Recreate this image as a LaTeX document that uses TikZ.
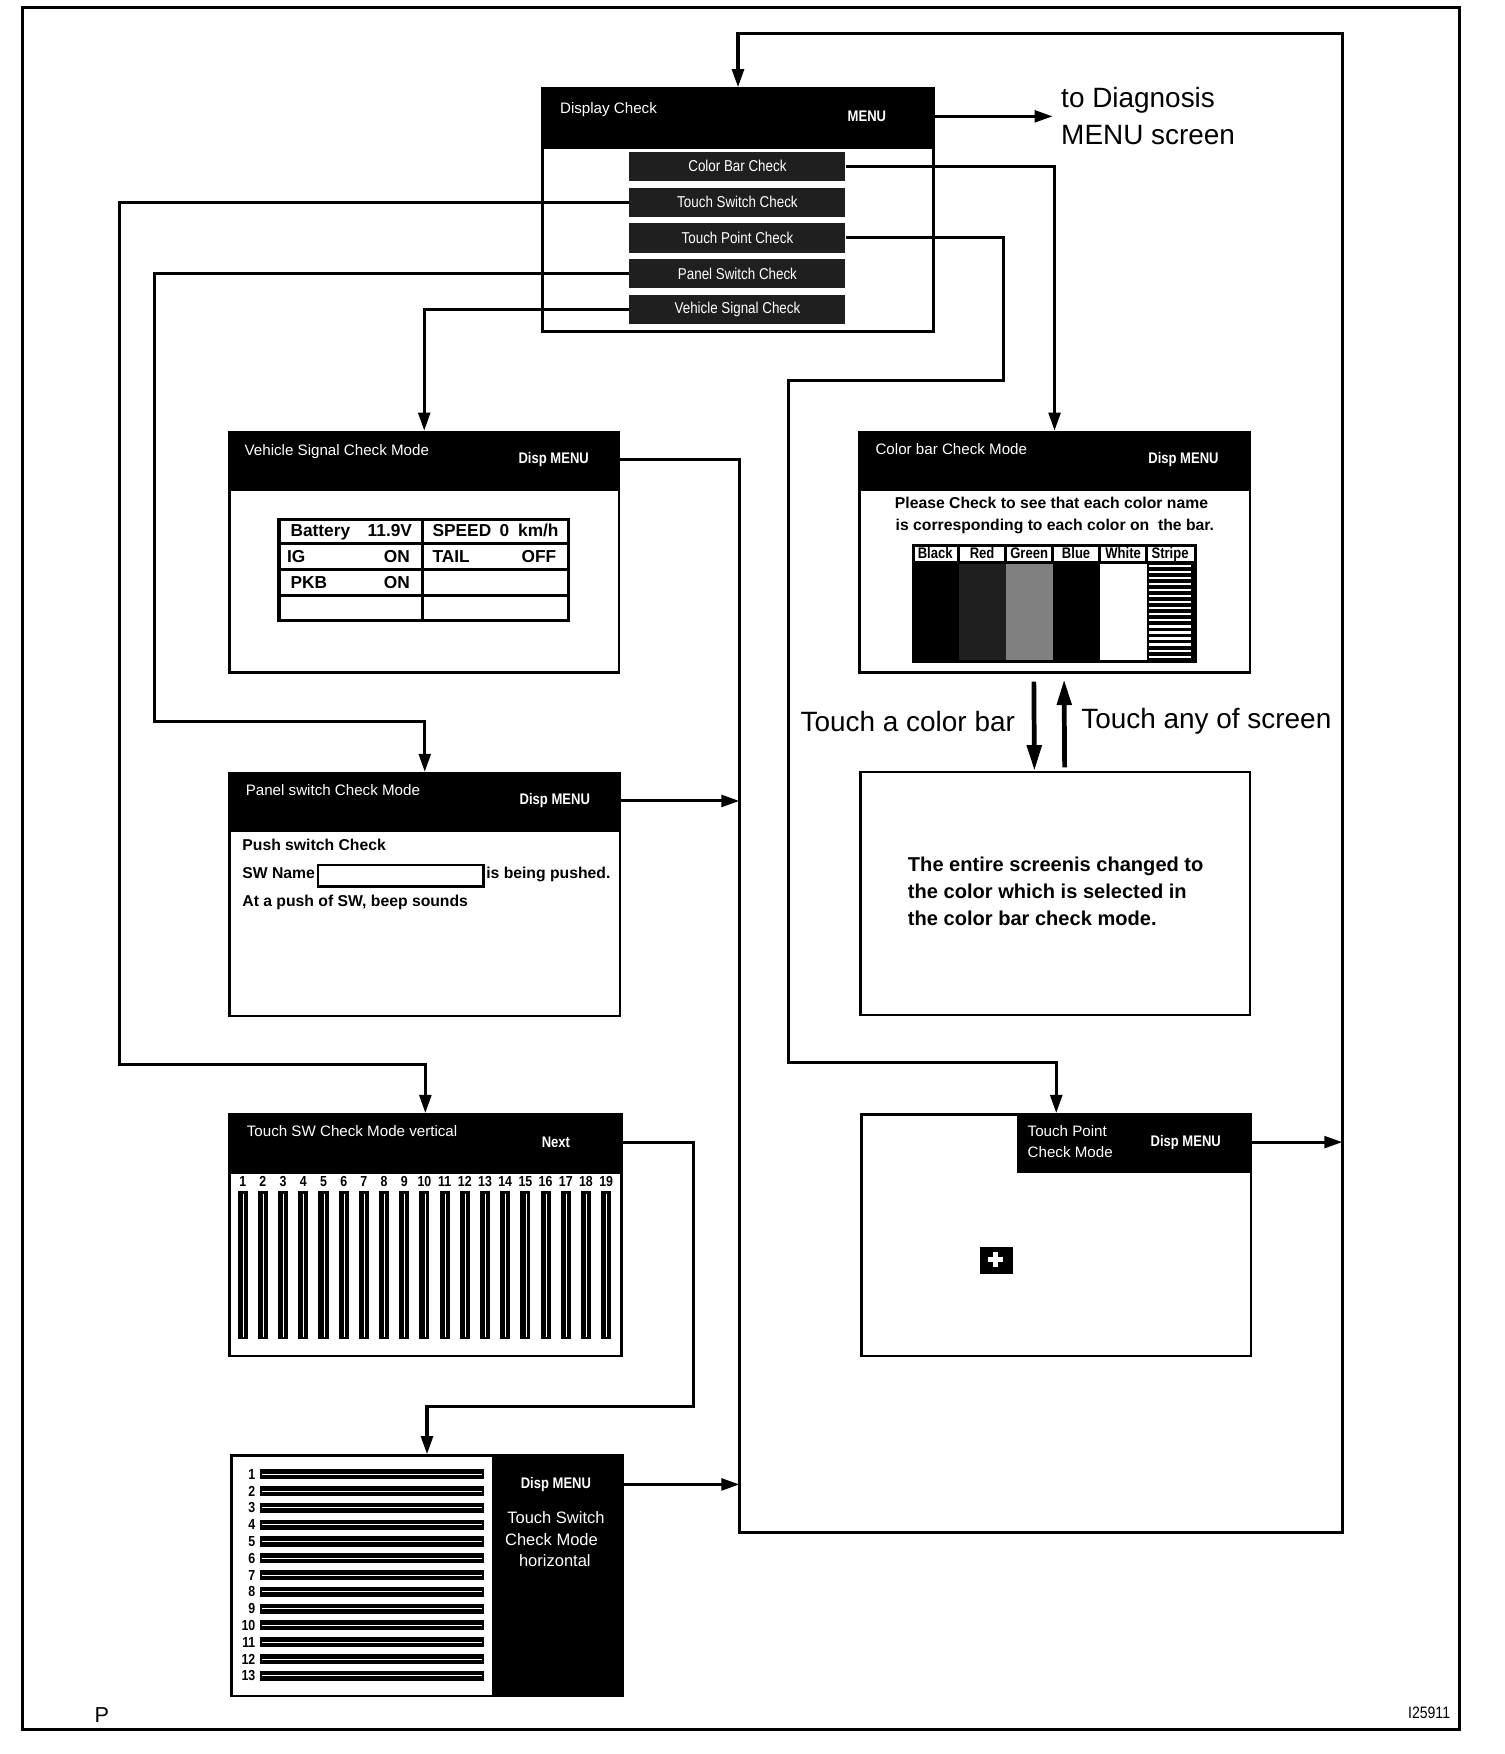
\documentclass[tikz,border=0pt]{standalone}
\usepackage{fontspec}
\setmainfont{Liberation Sans}
\newfontfamily\cfont{Liberation Sans}[FakeStretch=0.85]
\usetikzlibrary{arrows.meta}
\begin{document}
\begin{tikzpicture}[x=0.01cm,y=-0.01cm,
  conn/.style={line width=0.78pt},
  arr/.style={conn,-{Triangle[length=4.6pt,width=3pt]}},
  bigarr/.style={line width=1.2pt,-{Triangle[length=6.5pt,width=3.6pt]}},
  scr/.style={draw,line width=0.65pt,fill=white,inner sep=0,anchor=north west},
  hdr/.style={fill=black,draw=black,line width=0.65pt,inner sep=0,anchor=north west},
  item/.style={fill=black!88,inner sep=0,anchor=north west,minimum width=1.93cm,minimum height=0.26cm,text=white,font=\cfont\fontsize{4pt}{5pt}\selectfont},
  ttl/.style={text=white,inner sep=0,anchor=base west,font=\fontsize{3.85pt}{4.7pt}\selectfont},
  dm/.style={text=white,inner sep=0,font=\cfont\bfseries\fontsize{3.9pt}{4.7pt}\selectfont},
  tb/.style={inner sep=0,font=\bfseries\fontsize{4.4pt}{5pt}\selectfont},
  bt/.style={inner sep=0,anchor=base west,font=\bfseries\fontsize{4pt}{5pt}\selectfont},
  et/.style={inner sep=0,anchor=base west,font=\bfseries\fontsize{5.1pt}{6pt}\selectfont},
  big/.style={inner sep=0,font=\fontsize{7.1pt}{8.8pt}\selectfont},
  num/.style={inner sep=0,font=\cfont\bfseries\fontsize{3.7pt}{4pt}\selectfont},
  lab/.style={inner sep=0,anchor=base,font=\cfont\bfseries\fontsize{3.9pt}{4pt}\selectfont},
  wt/.style={text=white,inner sep=0,font=\fontsize{4.2pt}{5pt}\selectfont},
]
\useasboundingbox (0,0) rectangle (1345,1568);
\fill[white] (0,0) rectangle (1345,1568);
\node[draw,line width=0.75pt,inner sep=0,anchor=north west,minimum width=12.84cm,minimum height=15.39cm] (frame) at (19,5) {};

% ---------- Display Check ----------
\node[scr,minimum width=3.49cm,minimum height=2.17cm] (dc) at (484,78) {};
\node[hdr,minimum width=3.49cm,minimum height=0.53cm] (dch) at (484,78) {};
\node[ttl] (dct) at (500,101) {Display Check};
\node[dm] (menu) at (775,104) {MENU};
\node[item] (cbi) at (562,135) {Color Bar Check};
\node[item] (tsi) at (562,167) {Touch Switch Check};
\node[item] (tpi) at (562,199) {Touch Point Check};
\node[item] (psi) at (562,231) {Panel Switch Check};
\node[item] (vsi) at (562,263) {Vehicle Signal Check};
\node[big,anchor=west] (diag1) at (948,90) {to Diagnosis};
\node[big,anchor=west] (diag2) at (948,121) {MENU screen};
\coordinate (diagin) at (941,104);

% ---------- Vehicle Signal ----------
\node[scr,minimum width=3.48cm,minimum height=2.15cm] (vs) at (204,385) {};
\node[hdr,minimum width=3.48cm,minimum height=0.52cm] (vsh) at (204,385) {};
\node[ttl] (vst) at (218,407) {Vehicle Signal Check Mode};
\node[dm] (vsdm) at (495,411) {Disp MENU};
\node[draw,line width=0.8pt,inner sep=0,anchor=north west,minimum width=2.59cm,minimum height=0.90cm] (vtab) at (248,463) {};
\draw[line width=0.8pt] (378,463) -- (378,553);
\foreach \yy in {486,509,532} \draw[line width=0.8pt] (248,\yy) -- (507,\yy);
\node[tb,anchor=base west] (v1) at (259,480) {Battery};
\node[tb,anchor=base east] (v2) at (369,480) {11.9V};
\node[tb,anchor=base west] (v3) at (386,480) {SPEED};
\node[tb,anchor=base] (v4) at (451,480) {0};
\node[tb,anchor=base east] (v5) at (500,480) {km/h};
\node[tb,anchor=base west] (v6) at (256,503) {IG};
\node[tb,anchor=base east] (v7) at (367,503) {ON};
\node[tb,anchor=base west] (v8) at (386,503) {TAIL};
\node[tb,anchor=base east] (v9) at (498,503) {OFF};
\node[tb,anchor=base west] (v10) at (259,526) {PKB};
\node[tb,anchor=base east] (v11) at (367,526) {ON};

% ---------- Panel switch ----------
\node[scr,minimum width=3.49cm,minimum height=2.17cm] (ps) at (204,690) {};
\node[hdr,minimum width=3.49cm,minimum height=0.51cm] (psh) at (204,690) {};
\node[ttl] (pst) at (219,711) {Panel switch Check Mode};
\node[dm] (psdm) at (496,716) {Disp MENU};
\node[bt] (p1) at (216,760) {Push switch Check};
\node[bt] (p2) at (216,785) {SW Name};
\node[draw,line width=0.7pt,inner sep=0,anchor=north west,minimum width=1.48cm,minimum height=0.19cm] (pbox) at (283,772) {};
\node[bt] (p3) at (434,785) {is being pushed.};
\node[bt] (p4) at (216,810) {At a push of SW, beep sounds};

% ---------- Touch SW vertical ----------
\node[scr,minimum width=3.50cm,minimum height=2.16cm] (tsv) at (204,995) {};
\node[hdr,minimum width=3.50cm,minimum height=0.52cm] (tsvh) at (204,995) {};
\node[ttl] (tsvt) at (220,1016) {Touch SW Check Mode vertical};
\node[dm] (nextn) at (497,1021) {Next};
\foreach \i in {1,...,19} {
  \pgfmathsetmacro\xx{217+(\i-1)*18.05}
  \node[num] (vn\i) at (\xx,1056) {\i};
  \fill (\xx-4.5,1065) rectangle (\xx+4.5,1197);
  \draw[white,line width=0.22pt] (\xx+0.5,1067) -- (\xx+0.5,1195);
}

% ---------- Touch Switch horizontal ----------
\node[scr,minimum width=3.49cm,minimum height=2.15cm] (tsh) at (206,1300) {};
\node[hdr,minimum width=1.15cm,minimum height=2.15cm] (tshp) at (440,1300) {};
\node[dm] (tshdm) at (497,1327) {Disp MENU};
\node[wt] (tsh1) at (497,1357) {Touch Switch};
\node[wt] (tsh2) at (493,1376) {Check Mode};
\node[wt] (tsh3) at (496,1395) {horizontal};
\foreach \i in {1,...,13} {
  \pgfmathsetmacro\yy{1318+(\i-1)*15}
  \node[num,anchor=east] (hn\i) at (229,\yy) {\i};
  \fill (232,\yy-4.5) rectangle (433,\yy+4.5);
  \draw[white,line width=0.22pt] (234,\yy) -- (431,\yy);
}

% ---------- Color bar ----------
\node[scr,minimum width=3.49cm,minimum height=2.15cm] (cb) at (767,385) {};
\node[hdr,minimum width=3.49cm,minimum height=0.52cm] (cbh) at (767,385) {};
\node[ttl] (cbt) at (782,406) {Color bar Check Mode};
\node[dm] (cbdm) at (1058,411) {Disp MENU};
\node[bt,anchor=base] (c1) at (940,455) {Please Check to see that each color name};
\node[bt,anchor=base] (c2) at (943,474) {is corresponding to each color on\ \ the bar.};
\fill[black] (815,503) rectangle (857,590);
\fill[black!88] (857,503) rectangle (899,590);
\fill[black!50] (899,503) rectangle (941,590);
\fill[black] (941,503) rectangle (983,590);
\fill[black] (1025,503) rectangle (1067,590);
\foreach \k in {0,...,15} \draw[white,line width=0.55pt] (1027,506+\k*5.4) -- (1065,506+\k*5.4);
\node[draw,line width=0.8pt,inner sep=0,anchor=north west,minimum width=2.52cm,minimum height=1.04cm] (ctab) at (815,486) {};
\draw[line width=0.8pt] (815,503) -- (1067,503);
\foreach \xx in {857,899,941,983,1025} \draw[line width=0.8pt] (\xx,486) -- (\xx,503);
\node[lab] (l1) at (836,499) {Black};
\node[lab] (l2) at (878,499) {Red};
\node[lab] (l3) at (920,499) {Green};
\node[lab] (l4) at (962,499) {Blue};
\node[lab] (l5) at (1004,499) {White};
\node[lab] (l6) at (1046,499) {Stripe};

% ---------- Entire screen ----------
\node[scr,minimum width=3.48cm,minimum height=2.17cm] (ent) at (768,689) {};
\node[et] (e1) at (811,779) {The entire screenis changed to};
\node[et] (e2) at (811,803) {the color which is selected in};
\node[et] (e3) at (811,827) {the color bar check mode.};
\node[big,anchor=east] (tcb) at (908,645) {Touch a color bar};
\node[big,anchor=west] (tas) at (966,645) {Touch any of screen};

% ---------- Touch Point ----------
\node[scr,minimum width=3.48cm,minimum height=2.16cm] (tp) at (769,995) {};
\node[hdr,minimum width=2.08cm,minimum height=0.51cm] (tph) at (909,995) {};
\node[ttl] (tpt1) at (918,1016) {Touch Point};
\node[ttl] (tpt2) at (918,1035) {Check Mode};
\node[dm] (tpdm) at (1060,1021) {Disp MENU};
\node[fill=black,inner sep=0,anchor=north west,minimum width=0.30cm,minimum height=0.24cm] (plus) at (875,1114) {};
\fill[white] (883,1124) rectangle (897,1128);
\fill[white] (888,1119) rectangle (892,1133);

% ---------- footer ----------
\node[inner sep=0,font=\fontsize{5.5pt}{6pt}\selectfont] (pl) at (91,1533) {P};
\node[inner sep=0,anchor=east,font=\cfont\fontsize{4.2pt}{5pt}\selectfont] (fig) at (1297,1531) {I25911};

% ---------- connectors ----------
\coordinate (r1) at (1200,30);
\coordinate (l2) at (661,1370);
\draw[arr] (vs.north east |- vsdm) -| (l2) -| (r1) -| (dc.north);
\draw[arr] (ps.north east |- psdm) -- (l2 |- psdm);
\draw[arr] (tsh.north east |- tshdm) -- (l2 |- tshdm);
\draw[arr] (tp.north east |- tpdm) -- (r1 |- tpdm);
\draw[arr] (dc.north east |- diagin) -- (diagin);
\draw[arr] (cbi.east) -| (cb.north);
\coordinate (ts1) at (107,952);
\draw[arr] (tsi.west) -| (ts1) -| (tsv.north);
\coordinate (tp1) at (897,340);
\coordinate (tp2) at (705,950);
\draw[arr] (tpi.east) -| (tp1) -| (tp2) -| (tp.north);
\coordinate (ps1) at (138,645);
\draw[arr] (psi.west) -| (ps1) -| (ps.north);
\draw[arr] (vsi.west) -| (vs.north);
\coordinate (nx1) at (620,1257);
\draw[arr] (tsv.north east |- nextn) -| (nx1) -| (tsh.north);
\draw[bigarr] ([xshift=-0.185cm,yshift=-0.07cm]cb.south) -- ([xshift=-0.185cm]ent.north);
\draw[bigarr] ([xshift=0.085cm,yshift=0.03cm]ent.north) -- ([xshift=0.085cm,yshift=-0.05cm]cb.south);
\end{tikzpicture}
\end{document}
